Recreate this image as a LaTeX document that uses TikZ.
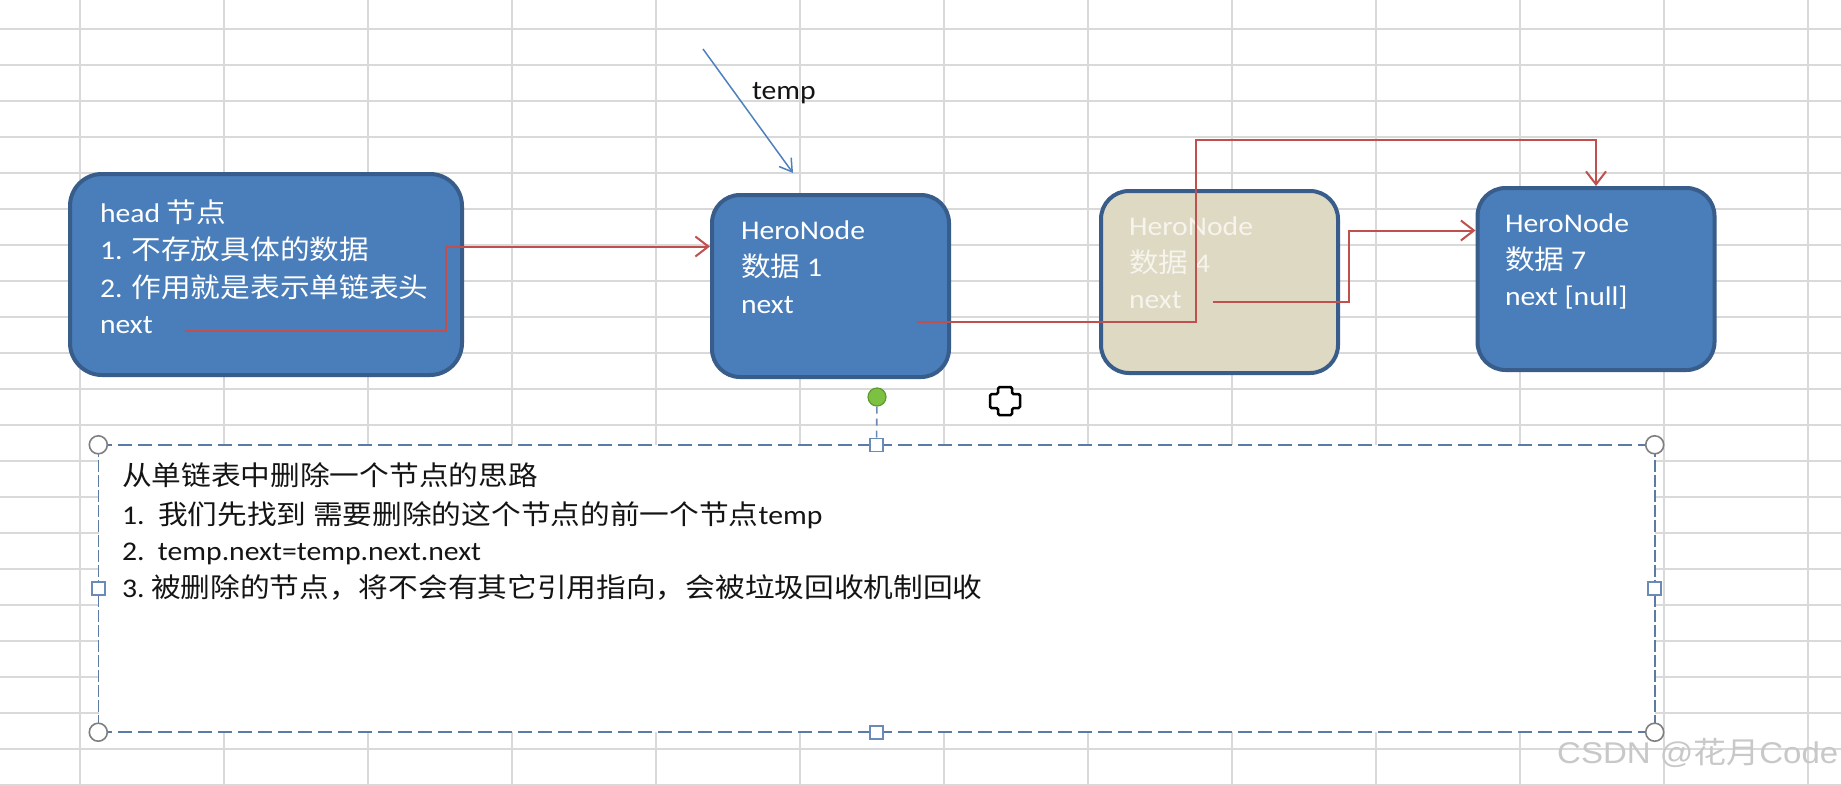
\documentclass[tikz,border=0pt]{standalone}
\usepackage{fontspec}
\setmainfont{Carlito}[FakeStretch=1.1]
\newfontfamily\cjkfont{Noto Sans CJK SC}[FakeStretch=1.1]
\newfontfamily\wmfont{Liberation Sans}[FakeStretch=1.1]
\newcommand\zh[1]{{\cjkfont #1}}
\usetikzlibrary{arrows.meta}
\definecolor{nodeblue}{HTML}{4A7EBB}
\definecolor{boxedge}{HTML}{385D8A}
\definecolor{tanfill}{HTML}{DDD9C3}
\definecolor{tantext}{HTML}{F6F4EC}
\definecolor{arrowred}{HTML}{C0504D}
\definecolor{tempblue}{HTML}{4F81BD}
\definecolor{gridgray}{HTML}{D9D9D9}
\definecolor{notedash}{HTML}{5B7BA6}
\definecolor{handlegray}{HTML}{7F7F7F}
\definecolor{handleblue}{HTML}{6A8BB5}
\definecolor{rotgreen}{HTML}{7DC142}
\definecolor{rotedge}{HTML}{5E9A2E}
\definecolor{wmgray}{HTML}{C8C8C8}
\begin{document}
\begin{tikzpicture}[x=1pt,y=-1pt,
  grid/.style={draw=gridgray, line width=1.6pt},
  listbox/.style={draw=boxedge, line width=4pt, fill=nodeblue, rounded corners=28pt,
    inner sep=0pt, minimum width=237pt, minimum height=182pt},
  headbox/.style={listbox, rounded corners=32pt, minimum width=392pt, minimum height=201pt},
  tanbox/.style={listbox, fill=tanfill},
  txt/.style={anchor=base west, inner sep=0pt, outer sep=0pt, font=\fontsize{27}{33}\selectfont},
  wtxt/.style={txt, text=white},
  ttxt/.style={txt, text=tantext},
  btxt/.style={txt, text=black!92},
  redarrow/.style={draw=arrowred, line width=2pt, line join=miter,
    -{Straight Barb[length=13pt, width=20pt]}},
  temparrow/.style={draw=tempblue, line width=1.5pt,
    -{Straight Barb[length=12pt, width=15pt]}},
  notebox/.style={fill=white, inner sep=0pt, minimum width=1556pt, minimum height=287pt},
  hdash/.style={draw=notedash, line width=2.5pt, dash pattern=on 14pt off 6pt},
  vdash/.style={draw=notedash, line width=1.6pt, dash pattern=on 12pt off 3pt},
  cornerh/.style={circle, draw=handlegray, line width=1.6pt, fill=white, minimum size=18pt, inner sep=0pt},
  midh/.style={rectangle, draw=handleblue, line width=1.6pt, fill=white, minimum size=13pt, inner sep=0pt},
  roth/.style={circle, draw=rotedge, line width=1.2pt, fill=rotgreen, minimum size=18pt, inner sep=0pt},
  rotline/.style={draw=handleblue, line width=1.6pt, dash pattern=on 7pt off 5pt},
  wm/.style={anchor=base west, inner sep=0pt, text=wmgray, font=\wmfont\fontsize{30}{36}\selectfont}
]
\useasboundingbox (0,0) rectangle (1841,785);
\fill[white] (0,0) rectangle (1841,785);
% spreadsheet grid
\foreach \gx in {80,224,...,1808} {\draw[grid] (\gx,0) -- (\gx,785);}
\foreach \gy in {29,65,...,785} {\draw[grid] (0,\gy) -- (1841,\gy);}

% text box with selection handles
\node[notebox] (note) at (876.5,588.5) {};
\draw[hdash] (note.north west) -- (note.north east);
\draw[hdash] (note.south west) -- (note.south east);
\draw[vdash] (note.north west) -- (note.south west);
\draw[vdash] (note.north east) -- (note.south east);
\node[roth] (rot) at (877,397) {};
\node[midh] (hn) at (note.north) {};
\draw[rotline] (rot) -- (hn);
\node[midh] (hs) at (note.south) {};
\node[midh] (hw) at (note.west) {};
\node[midh] (he) at (note.east) {};
\node[cornerh] (hnw) at (note.north west) {};
\node[cornerh] (hne) at (note.north east) {};
\node[cornerh] (hsw) at (note.south west) {};
\node[cornerh] (hse) at (note.south east) {};

\node[btxt] (n1) at (122,485) {\zh{从单链表中删除一个节点的思路}};
\node[btxt] (n2) at (122,524) {\makebox[36pt][l]{1.}\zh{我们先找到 需要删除的这个节点的前一个节点}temp};
\node[btxt] (n3) at (122,560) {\makebox[36pt][l]{2.}temp.next=temp.next.next};
\node[btxt] (n4) at (122,597) {\makebox[29pt][l]{3.}\zh{被删除的节点，将不会有其它引用指向，会被垃圾回收机制回收}};

% move cursor
\draw[black, line width=2.5pt, fill=white, rounded corners=1.5pt]
  (998,387) -- (1012,387) -- (1012,394) -- (1020,394) -- (1020,408) -- (1012,408)
  -- (1012,415) -- (998,415) -- (998,408) -- (990,408) -- (990,394) -- (998,394) -- cycle;

% list nodes
\node[headbox] (head) at (266,274.5) {};
\node[listbox] (box1) at (830.5,286) {};
\node[tanbox] (box4) at (1219.5,282) {};
\node[listbox] (box7) at (1596,279) {};

\node[wtxt] (h1) at (100,222) {head \zh{节点}};
\node[wtxt] (h2) at (100,259) {1. \zh{不存放具体的数据}};
\node[wtxt] (h3) at (100,297) {2. \zh{作用就是表示单链表头}};
\node[wtxt] (h4) at (100,333) {next};

\node[wtxt] (a1) at (741,239) {HeroNode};
\node[wtxt] (a2) at (741,276) {\zh{数据} 1};
\node[wtxt] (a3) at (741,313) {next};

\node[ttxt] (b1) at (1129,235) {HeroNode};
\node[ttxt] (b2) at (1129,272) {\zh{数据} 4};
\node[ttxt] (b3) at (1129,308) {next};

\node[wtxt] (c1) at (1505,232) {HeroNode};
\node[wtxt] (c2) at (1505,269) {\zh{数据} 7};
\node[wtxt] (c3) at (1505,305) {next [null]};

% temp pointer
\node[btxt] (templabel) at (752,99) {temp};
\coordinate (tempstart) at (703,49);
\draw[temparrow] (tempstart) -- ([shift={(-37.5,-20)}]box1.north);

% next pointers
\coordinate (hnext) at (185,331);
\coordinate (t1) at (446,246.5);
\draw[redarrow] (hnext) -| (t1) -- (t1 -| box1.west);

\coordinate (n1next) at (916.5,322);
\coordinate (t2) at (1196,139.5);
\draw[redarrow] (n1next) -| (t2) -| (box7.north);

\coordinate (n4next) at (1213,302);
\coordinate (t3) at (1349,230.5);
\draw[redarrow] (n4next) -| (t3) -- (t3 -| box7.west);

% watermark
\node[wm] (wmark) at (1557,763) {CSDN @\zh{花月}Code};
\end{tikzpicture}
\end{document}
